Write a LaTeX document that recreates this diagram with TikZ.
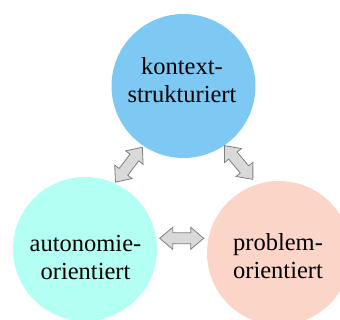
\documentclass[tikz,border=0pt]{standalone}
\usepackage{fontspec}
\setmainfont{Liberation Serif}
\definecolor{cblue}{HTML}{7DC9F3}
\definecolor{ccyan}{HTML}{B3FFF3}
\definecolor{cpeach}{HTML}{FAD5C8}
\definecolor{afill}{HTML}{D9D9D9}
\definecolor{aline}{HTML}{7F7F7F}
\begin{document}
\begin{tikzpicture}[x=1pt,y=-1pt,
  bubble/.style={circle,minimum size=144pt,inner sep=0pt,draw=none},
  label/.style={align=center,inner sep=0pt,font=\fontsize{24.5}{28}\selectfont},
  dblarrow/.pic={\draw[fill=afill,draw=aline,line width=0.8pt,line join=miter]
     (-22,0) -- (-9,11) -- (-9,5.5) -- (9,5.5) -- (9,11) -- (22,0)
     -- (9,-11) -- (9,-5.5) -- (-9,-5.5) -- (-9,-11) -- cycle;}]
\useasboundingbox (0,0) rectangle (340,320);
\clip (0,0) rectangle (340,320);
\node[bubble,fill=cblue] (top) at (183.5,86) {};
\node[bubble,fill=ccyan] (left) at (85,249) {};
\node[bubble,fill=cpeach] (right) at (279,253) {};
\node[label] (ttop) at (182,79.7) {kontext-\\strukturiert};
\node[label] (tleft) at (85.5,257.7) {autonomie-\\orientiert};
\node[label] (tright) at (278,255.7) {problem-\\orientiert};
\pic[rotate=52.4] at (128.9,164.7) {dblarrow};
\pic[rotate=-50] at (238.7,162.5) {dblarrow};
\pic at (181.7,238.3) {dblarrow};
\end{tikzpicture}
\end{document}
